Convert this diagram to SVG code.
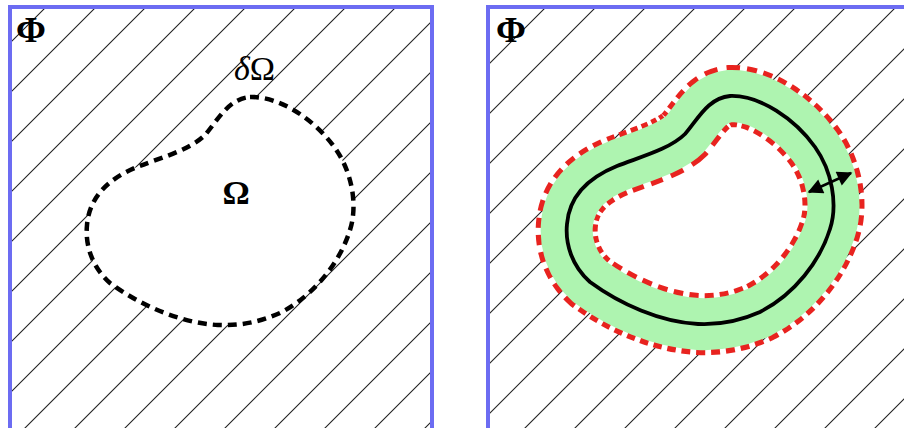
<svg xmlns="http://www.w3.org/2000/svg" xmlns:xlink="http://www.w3.org/1999/xlink" width="904" height="428" viewBox="0 0 904 428">
<style>
.hatch{fill:none;stroke:#222;stroke-width:1.1}
.frame{fill:none;stroke:#6c6cf2;stroke-width:4}
.phi{font-family:"Liberation Serif","Times New Roman",serif;font-weight:bold;font-size:36px;fill:#000}
.lbl{font-family:"Liberation Serif","Times New Roman",serif;font-size:34px;fill:#000}
.inside{fill:#fff;stroke:none}
.dashB{fill:none;stroke:#000;stroke-width:4.5;stroke-dasharray:9 6}
.redOuter{fill:none;stroke:#e8231f;stroke-width:62;stroke-dasharray:7.4 4.9}
.redInner{fill:none;stroke:#e8231f;stroke-width:62;stroke-dasharray:11.5 7.7}
.greenBand{fill:none;stroke:#aef4b0;stroke-width:52}
.solidB{fill:none;stroke:#000;stroke-width:3.8}
</style>
<defs>
<path id="blob" d="M250,97 C280,96 315,120 335,148 C352,172 358,205 350,230 C340,262 315,295 280,313 C260,322 240,326 218,325 C180,323 140,305 110,283 C92,267 85,245 87,225 C89,200 105,180 137,167 C160,158 190,150 205,135 C218,120 228,99 250,97 Z"/>
<clipPath id="clipL"><rect x="10" y="7" width="422" height="430"/></clipPath>
<clipPath id="clipR"><rect x="488" y="7" width="430" height="430"/></clipPath>
<mask id="mIn" maskUnits="userSpaceOnUse" x="0" y="0" width="904" height="428">
<use xlink:href="#blob" fill="#fff"/>
</mask>
<mask id="mOut" maskUnits="userSpaceOnUse" x="0" y="0" width="904" height="428">
<rect x="-500" y="-50" width="1500" height="550" fill="#fff"/>
<use xlink:href="#blob" fill="#000"/>
</mask>
<marker id="ah" viewBox="0 0 10 10" refX="9" refY="5" markerWidth="6.5" markerHeight="6" orient="auto-start-reverse" markerUnits="strokeWidth">
<path d="M0,0 L10,5 L0,10 Z" fill="#000"/>
</marker>
</defs>
<rect width="904" height="428" fill="#fff"/>
<g id="panel-left">
<path class="hatch" clip-path="url(#clipL)" d="M-387,440L53,0M-337,440L103,0M-287,440L153,0M-237,440L203,0M-187,440L253,0M-137,440L303,0M-87,440L353,0M-37,440L403,0M13,440L453,0M63,440L503,0M113,440L553,0M163,440L603,0M213,440L653,0M263,440L703,0M313,440L753,0M363,440L803,0M413,440L853,0M463,440L903,0"/>
<g id="omega-region">
<use xlink:href="#blob" class="inside"/>
<use xlink:href="#blob" class="dashB"/>
</g>
<rect class="frame" x="10" y="7" width="422" height="440"/>
<text class="phi" x="16" y="42">Φ</text>
<text class="lbl" x="234" y="80"><tspan font-style="italic">δ</tspan>Ω</text>
<text class="phi" x="236" y="204" text-anchor="middle" style="font-size:34px">Ω</text>
</g>
<g id="panel-right">
<path class="hatch" clip-path="url(#clipR)" d="M113,440L553,0M163,440L603,0M213,440L653,0M263,440L703,0M313,440L753,0M363,440L803,0M413,440L853,0M463,440L903,0M513,440L953,0M563,440L1003,0M613,440L1053,0M663,440L1103,0M713,440L1153,0M763,440L1203,0M813,440L1253,0M863,440L1303,0M913,440L1353,0"/>
<g id="band" transform="translate(480,-1)">
<use xlink:href="#blob" class="inside"/>
<g mask="url(#mOut)"><use xlink:href="#blob" class="redOuter"/></g>
<g mask="url(#mIn)"><use xlink:href="#blob" class="redInner"/></g>
<use xlink:href="#blob" class="greenBand"/>
<use xlink:href="#blob" class="solidB"/>
</g>
<rect class="frame" x="488" y="7" width="440" height="440"/>
<text class="phi" x="496" y="42">Φ</text>
</g>
<g id="connectors">
<line x1="809" y1="192" x2="851" y2="173" stroke="#000" stroke-width="2.5" marker-start="url(#ah)" marker-end="url(#ah)"/>
</g>
</svg>
